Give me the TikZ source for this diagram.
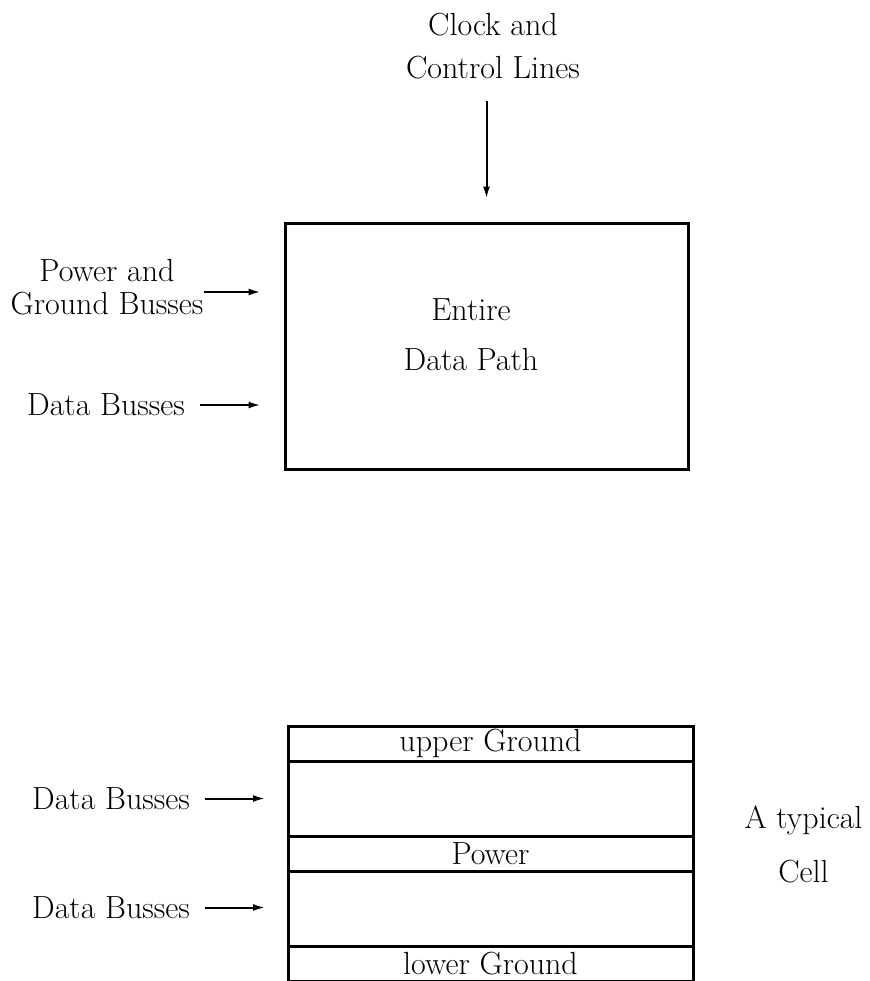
\documentclass[tikz,border=0pt]{standalone}
\usepackage{tikz}
\usetikzlibrary{arrows.meta,positioning}

\tikzset{
  lbl/.style={inner sep=0pt,align=center,font=\fontsize{16}{19}\selectfont},
  bus/.style={line width=1pt,-{Latex[length=6pt,width=3.5pt]}},
  layer/.style={draw,line width=1.5pt,inner sep=0pt,outer sep=0pt,
    minimum width=202.5pt,font=\fontsize{16}{19}\selectfont},
}

\begin{document}
\begin{tikzpicture}[x=0.5pt,y=-0.5pt]
  \useasboundingbox (0,0) rectangle (869,981);
  % whole data path
  \node[draw,line width=1.5pt,minimum width=201.5pt,minimum height=123pt] (dp) at (486.5,346) {};
  \node[lbl] (dptxt) at (471,335) {Entire\\[6pt]Data Path};
  \node[lbl] (clk) at (493,46) {Clock and\\[2.5pt]Control Lines};
  \node[lbl] (pgb) at (107,287) {Power and\\[-2.5pt]Ground Busses};
  \node[lbl] (db1) at (106,405) {Data Busses};
  \draw[bus,shorten <=11pt,shorten >=11.5pt] (clk.south -| dp.north) -- (dp.north);
  \draw[bus,shorten >=11.5pt] ([yshift=-2.5pt]pgb.east) -- ([yshift=-2.5pt]pgb.east -| dp.west);
  \draw[bus,shorten <=7.5pt,shorten >=11.5pt] (db1.east) -- (db1.east -| dp.west);

  % one cell, layer by layer
  \node[layer,minimum height=17.5pt] (ug) at (490.5,743.5) {upper Ground};
  \node[layer,minimum height=37.5pt,below=0pt of ug] (r2) {};
  \node[layer,minimum height=17.5pt,below=0pt of r2] (pw) {Power};
  \node[layer,minimum height=37.5pt,below=0pt of pw] (r4) {};
  \node[layer,minimum height=17.5pt,below=0pt of r4] (lg) {lower Ground};
  \node[lbl] (db2) at (111,798.5) {Data Busses};
  \node[lbl] (db3) at (111,907.5) {Data Busses};
  \draw[bus,shorten <=7.5pt,shorten >=11.5pt] (db2.east) -- (db2.east -| r2.west);
  \draw[bus,shorten <=7.5pt,shorten >=11.5pt] (db3.east) -- (db3.east -| r4.west);
  \node[lbl] (cell) at (803.5,844.5) {A typical\\[8pt]Cell};
\end{tikzpicture}
\end{document}
